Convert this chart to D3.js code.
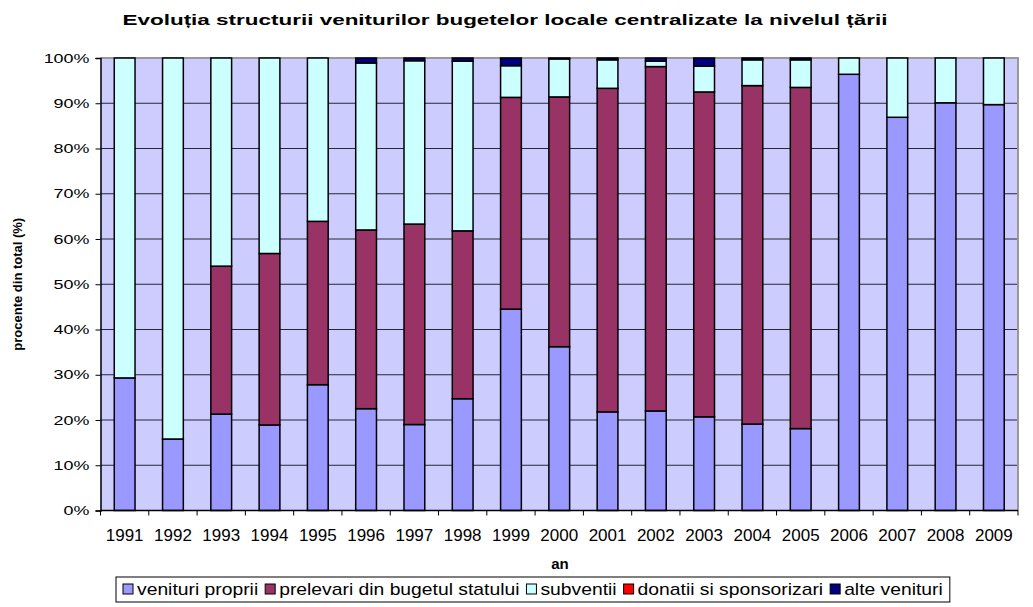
<!DOCTYPE html>
<html>
<head>
<meta charset="utf-8">
<script src="https://cdn.jsdelivr.net/npm/d3@7"></script>
<style>
  body { margin: 0; background: #fff; }
  svg { display: block; font-family: "Liberation Sans", Arial, sans-serif; }
</style>
</head>
<body>
<div class="chart"></div>
<script>
// data (percent of total)
const years = ["1991","1992","1993","1994","1995","1996","1997","1998","1999","2000",
               "2001","2002","2003","2004","2005","2006","2007","2008","2009"];
const venituriProprii = [29.3, 15.8, 21.3, 18.9, 27.8, 22.5, 19.0, 24.7, 44.5, 36.2,
                         21.8, 22.0, 20.7, 19.1, 18.1, 96.4, 86.9, 90.1, 89.7];
const prelevari = [0, 0, 32.7, 37.9, 36.1, 39.5, 44.3, 37.1, 46.8, 55.2,
                   71.5, 76.1, 71.8, 74.8, 75.4, 0, 0, 0, 0];
const subventii = [70.7, 84.2, 46.0, 43.2, 36.1, 36.9, 36.1, 37.5, 7.0, 8.4,
                   6.3, 1.2, 5.7, 5.7, 6.1, 3.6, 13.1, 9.9, 10.3];
const donatii = [0, 0, 0, 0, 0, 0, 0, 0, 0, 0, 0, 0, 0, 0, 0, 0, 0, 0, 0];
const alteVenituri = [0, 0, 0, 0, 0, 1.1, 0.6, 0.7, 1.7, 0.2,
                      0.4, 0.7, 1.8, 0.4, 0.4, 0, 0, 0, 0];
const yTicks = [0, 10, 20, 30, 40, 50, 60, 70, 80, 90, 100];

const seriesNames = ["venituri proprii", "prelevari din bugetul statului", "subventii",
                     "donatii si sponsorizari", "alte venituri"];
const seriesKeys = ["proprii", "prelevari", "subventii", "donatii", "alte"];
const colors = ["#9999FF", "#993366", "#CCFFFF", "#FF0000", "#000080"];

// table for d3.stack
const table = years.map((yr, i) => ({
  an: yr,
  proprii: venituriProprii[i],
  prelevari: prelevari[i],
  subventii: subventii[i],
  donatii: donatii[i],
  alte: alteVenituri[i]
}));

const width = 1033, height = 607;
const margin = {top: 58, right: 15, bottom: 96.5, left: 100.5};

const svg = d3.select(".chart").append("svg")
  .attr("width", width)
  .attr("height", height);

const x = d3.scaleBand()
  .domain(years)
  .range([margin.left, width - margin.right])
  .paddingInner(0.57)
  .paddingOuter(0.285);

const y = d3.scaleLinear()
  .domain([0, 100])
  .range([height - margin.bottom, margin.top]);

// plot area
svg.append("rect")
  .attr("x", margin.left).attr("y", margin.top)
  .attr("width", width - margin.right - margin.left)
  .attr("height", y(0) - y(100))
  .attr("fill", "#CCCCFF");

// gridlines
svg.append("g")
  .selectAll("line")
  .data(yTicks.filter(d => d > 0 && d < 100))
  .join("line")
  .attr("x1", margin.left).attr("x2", width - margin.right)
  .attr("y1", d => y(d)).attr("y2", d => y(d))
  .attr("stroke", "#000").attr("stroke-width", 1).attr("opacity", 0.8);

// top + right border
svg.append("path")
  .attr("d", `M${margin.left},${y(100)}H${width - margin.right}V${y(0)}`)
  .attr("fill", "none").attr("stroke", "#999").attr("stroke-width", 2);

// stacked bars
const stack = d3.stack().keys(seriesKeys);
const layers = stack(table);

svg.append("g")
  .selectAll("g")
  .data(layers)
  .join("g")
  .attr("fill", (d, i) => colors[i])
  .selectAll("rect")
  .data(d => d.filter(p => p[1] - p[0] > 0))
  .join("rect")
  .attr("x", d => x(d.data.an))
  .attr("y", d => y(d[1]))
  .attr("width", x.bandwidth())
  .attr("height", d => y(d[0]) - y(d[1]))
  .attr("stroke", "#000")
  .attr("stroke-width", 1.5);

// y axis
const yAxis = svg.append("g")
  .attr("transform", `translate(${margin.left},0)`)
  .call(d3.axisLeft(y).tickValues(yTicks).tickFormat(d => d + "%").tickSize(5).tickPadding(6));
yAxis.select(".domain").attr("stroke", "#000").attr("stroke-width", 1.5);
yAxis.selectAll("text")
  .attr("font-size", 13)
  .attr("fill", "#000")
  .attr("font-family", "Liberation Sans, Arial, sans-serif")
  .attr("transform", "scale(1.38,1)")
  .attr("x", -11 / 1.38);

// x axis, ticks between the categories
const xAxisG = svg.append("g")
  .attr("transform", `translate(0,${y(0)})`);
xAxisG.append("line")
  .attr("x1", margin.left).attr("x2", width - margin.right)
  .attr("stroke", "#000").attr("stroke-width", 1.5);
const step = x.step();
xAxisG.selectAll("line.tk")
  .data(d3.range(years.length + 1))
  .join("line")
  .attr("class", "tk")
  .attr("x1", i => margin.left + i * step)
  .attr("x2", i => margin.left + i * step)
  .attr("y1", 0).attr("y2", 5)
  .attr("stroke", "#000");
xAxisG.selectAll("text")
  .data(years)
  .join("text")
  .attr("x", d => x(d) + x.bandwidth() / 2)
  .attr("y", 30)
  .attr("text-anchor", "middle")
  .attr("font-size", 17)
  .text(d => d);

// titles
svg.append("text")
  .attr("x", 505).attr("y", 25)
  .attr("text-anchor", "middle")
  .attr("font-weight", "bold")
  .attr("font-size", 15)
  .attr("textLength", 765)
  .attr("lengthAdjust", "spacingAndGlyphs")
  .text("Evoluția structurii veniturilor bugetelor locale centralizate la nivelul țării");

svg.append("text")
  .attr("x", 560).attr("y", 569)
  .attr("text-anchor", "middle")
  .attr("font-weight", "bold")
  .attr("font-size", 15)
  .text("an");

svg.append("text")
  .attr("transform", `translate(22,${(y(0) + y(100)) / 2}) rotate(-90)`)
  .attr("text-anchor", "middle")
  .attr("font-weight", "bold")
  .attr("font-size", 13)
  .text("procente din total (%)");

// legend (text is a bit wider than normal in the original)
const legend = svg.append("g").attr("transform", "translate(116,577)");
const legBox = legend.append("rect")
  .attr("height", 25).attr("fill", "#fff")
  .attr("stroke", "#000").attr("stroke-width", 1);
const stretch = 1.135;
let lx = 7;
seriesNames.forEach((name, i) => {
  legend.append("rect")
    .attr("x", lx).attr("y", 7)
    .attr("width", 10).attr("height", 10)
    .attr("fill", colors[i]).attr("stroke", "#000");
  const t = legend.append("text")
    .attr("x", lx + 14).attr("y", 18)
    .attr("font-size", 17)
    .text(name);
  const w = t.node().getComputedTextLength() * stretch;
  t.attr("textLength", w).attr("lengthAdjust", "spacingAndGlyphs");
  lx += 14 + w + 7;
});
legBox.attr("width", lx);
</script>
</body>
</html>
